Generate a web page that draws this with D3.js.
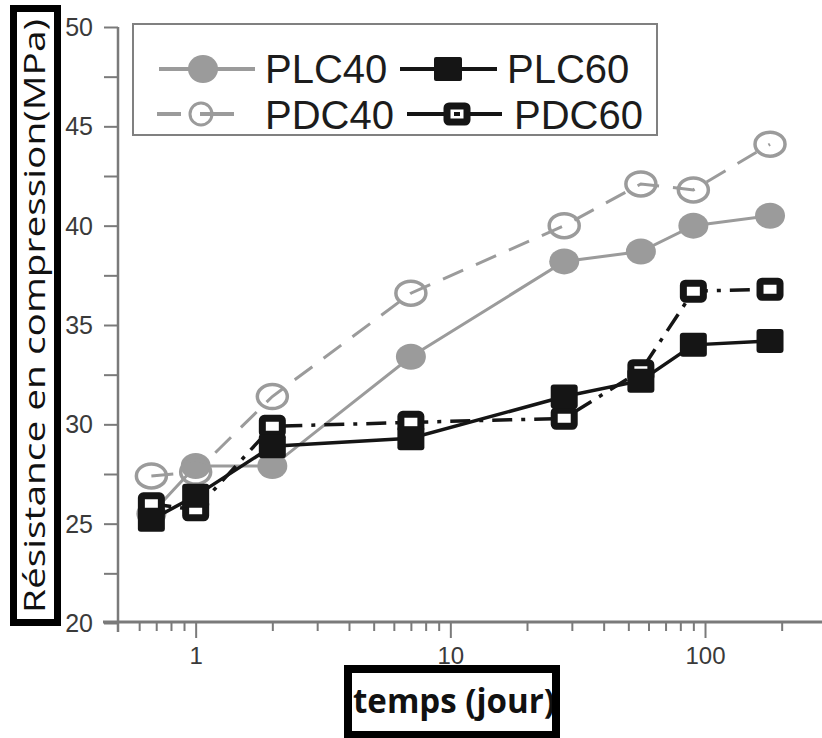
<!DOCTYPE html>
<html>
<head>
<meta charset="utf-8">
<script src="https://cdn.jsdelivr.net/npm/d3@7"></script>
<style>
  body { margin: 0; background: #fff; }
  svg { display: block; }
</style>
</head>
<body>
<div id="chart"></div>
<script>
// values (days, MPa)
var days  = [0.67, 1, 2, 7, 28, 56, 90, 180];
var plc40 = [25.5, 27.9, 27.9, 33.4, 38.2, 38.7, 40.0, 40.5];
var pdc40 = [27.4, 27.6, 31.4, 36.6, 40.0, 42.1, 41.8, 44.1];
var plc60 = [25.2, 26.4, 28.9, 29.3, 31.4, 32.2, 34.0, 34.2];
var pdc60 = [26.0, 25.7, 29.9, 30.1, 30.3, 32.7, 36.7, 36.8];

var yTicks = [20, 25, 30, 35, 40, 45, 50];
var yMinor = [22.5, 27.5, 32.5, 37.5, 42.5, 47.5];
var xMajor = [1, 10, 100];
var xMinor = [0.6, 0.7, 0.8, 0.9, 2, 3, 4, 5, 6, 7, 8, 9, 20, 30, 40, 50, 60, 70, 80, 90, 200];

var W = 822, H = 738;
var grey = "#9b9b9b", black = "#151515", axisCol = "#7a7a7a";

var svg = d3.select("#chart").append("svg")
    .attr("width", W)
    .attr("height", H);

var x = d3.scaleLog().domain([0.5, 288]).range([119, 822]);
var y = d3.scaleLinear().domain([20, 50]).range([623, 27]);

// ---- axes ----
var yAxis = svg.append("g")
    .attr("transform", "translate(118,0)")
    .call(d3.axisLeft(y).tickValues(yTicks.concat(yMinor)).tickSize(14).tickFormat(function (d) { return yTicks.indexOf(d) >= 0 ? d : ""; }));
yAxis.select(".domain").remove();
yAxis.selectAll(".tick line").attr("stroke", axisCol).attr("stroke-width", 2);
yAxis.selectAll(".tick text")
    .attr("x", -25)
    .attr("dy", "0.34em")
    .attr("fill", "#3a3a3a")
    .style("font-family", "Liberation Sans, Arial, sans-serif")
    .style("font-size", "25px");

var xAxis = svg.append("g")
    .attr("transform", "translate(0,622)")
    .call(d3.axisBottom(x).tickValues(xMajor.concat(xMinor)).tickSize(9).tickFormat(function (d) { return xMajor.indexOf(d) >= 0 ? d : ""; }));
xAxis.select(".domain").remove();
xAxis.selectAll(".tick line")
    .attr("stroke", axisCol)
    .attr("stroke-width", 2)
    .attr("y2", function (d) { return xMajor.indexOf(d) >= 0 ? 16 : 9; });
xAxis.selectAll(".tick text")
    .attr("y", 42)
    .attr("dy", 0)
    .attr("fill", "#3a3a3a")
    .style("font-family", "Liberation Sans, Arial, sans-serif")
    .style("font-size", "24px");

// axis lines
svg.append("line")
    .attr("x1", 118).attr("x2", 118)
    .attr("y1", y(50)).attr("y2", 632)
    .attr("stroke", axisCol).attr("stroke-width", 2.5);
svg.append("line")
    .attr("x1", 103).attr("x2", W)
    .attr("y1", 622).attr("y2", 622)
    .attr("stroke", axisCol).attr("stroke-width", 3);

// ---- series ----
function pts(vals) { return days.map(function (d, i) { return [d, vals[i]]; }); }
var line = d3.line().x(function (d) { return x(d[0]); }).y(function (d) { return y(d[1]); });

svg.append("path").datum(pts(plc40)).attr("d", line)
    .attr("fill", "none").attr("stroke", grey).attr("stroke-width", 3);
svg.append("path").datum(pts(pdc40)).attr("d", line)
    .attr("fill", "none").attr("stroke", grey).attr("stroke-width", 3)
    .attr("stroke-dasharray", "22,14");

svg.selectAll(".plc40").data(pts(plc40)).enter().append("ellipse")
    .attr("cx", function (d) { return x(d[0]); })
    .attr("cy", function (d) { return y(d[1]); })
    .attr("rx", 15).attr("ry", 13)
    .attr("fill", grey);

svg.selectAll(".pdc40").data(pts(pdc40)).enter().append("ellipse")
    .attr("cx", function (d) { return x(d[0]); })
    .attr("cy", function (d) { return y(d[1]); })
    .attr("rx", 15).attr("ry", 12)
    .attr("fill", "none").attr("stroke", grey).attr("stroke-width", 3.5);

svg.append("path").datum(pts(pdc60)).attr("d", line)
    .attr("fill", "none").attr("stroke", black).attr("stroke-width", 3.5)
    .attr("stroke-dasharray", "20,9,4,9");
svg.append("path").datum(pts(plc60)).attr("d", line)
    .attr("fill", "none").attr("stroke", black).attr("stroke-width", 3.5);

svg.selectAll(".pdc60").data(pts(pdc60)).enter().append("rect")
    .attr("x", function (d) { return x(d[0]) - 10; })
    .attr("y", function (d) { return y(d[1]) - 8; })
    .attr("width", 20).attr("height", 16).attr("rx", 2)
    .attr("fill", "#fff").attr("stroke", black).attr("stroke-width", 7);

svg.selectAll(".plc60").data(pts(plc60)).enter().append("rect")
    .attr("x", function (d) { return x(d[0]) - 13.5; })
    .attr("y", function (d) { return y(d[1]) - 12; })
    .attr("width", 27).attr("height", 24).attr("rx", 3)
    .attr("fill", black);

// ---- legend ----
var leg = svg.append("g");
leg.append("rect")
    .attr("x", 133).attr("y", 24).attr("width", 524).attr("height", 111)
    .attr("fill", "#fff").attr("stroke", "#808080").attr("stroke-width", 2);

function legText(tx, ty, s) {
    leg.append("text").attr("x", tx).attr("y", ty).text(s)
        .attr("fill", "#1c1c1c")
        .style("font-family", "Liberation Sans, Arial, sans-serif")
        .style("font-size", "40px");
}

// PLC40
leg.append("line").attr("x1", 159).attr("x2", 255).attr("y1", 69).attr("y2", 69)
    .attr("stroke", grey).attr("stroke-width", 4);
leg.append("ellipse").attr("cx", 203).attr("cy", 69).attr("rx", 15).attr("ry", 14).attr("fill", grey);
legText(265, 83, "PLC40");

// PLC60
leg.append("line").attr("x1", 400).attr("x2", 497).attr("y1", 69).attr("y2", 69)
    .attr("stroke", black).attr("stroke-width", 4);
leg.append("rect").attr("x", 434).attr("y", 57).attr("width", 28).attr("height", 24).attr("rx", 2).attr("fill", black);
legText(507, 83, "PLC60");

// PDC40
leg.append("line").attr("x1", 157).attr("x2", 181).attr("y1", 114).attr("y2", 114)
    .attr("stroke", grey).attr("stroke-width", 4);
leg.append("line").attr("x1", 200).attr("x2", 234).attr("y1", 114).attr("y2", 114)
    .attr("stroke", grey).attr("stroke-width", 4);
leg.append("ellipse").attr("cx", 201).attr("cy", 114).attr("rx", 11).attr("ry", 11)
    .attr("fill", "none").attr("stroke", grey).attr("stroke-width", 3);
legText(265, 129, "PDC40");

// PDC60
leg.append("line").attr("x1", 407).attr("x2", 502).attr("y1", 114).attr("y2", 114)
    .attr("stroke", black).attr("stroke-width", 4);
leg.append("rect").attr("x", 447).attr("y", 106).attr("width", 20).attr("height", 16).attr("rx", 2)
    .attr("fill", "#fff").attr("stroke", black).attr("stroke-width", 7);
leg.append("rect").attr("x", 454).attr("y", 112).attr("width", 6).attr("height", 4).attr("fill", black);
legText(514, 129, "PDC60");

// ---- axis titles in black frames ----
svg.append("rect")
    .attr("x", 13.5).attr("y", 8.5).attr("width", 44).attr("height", 614)
    .attr("fill", "#fff").attr("stroke", "#000").attr("stroke-width", 7);
svg.append("text")
    .attr("transform", "translate(45,316) rotate(-90)")
    .attr("text-anchor", "middle")
    .attr("textLength", 594).attr("lengthAdjust", "spacingAndGlyphs")
    .attr("fill", "#111")
    .style("font-family", "Open Sans, sans-serif")
    .style("font-size", "30px")
    .text("Résistance en compression(MPa)");

svg.append("rect")
    .attr("x", 348).attr("y", 669).attr("width", 208).attr("height", 66)
    .attr("fill", "#fff");
svg.append("text")
    .attr("x", 353).attr("y", 713)
    .attr("textLength", 202).attr("lengthAdjust", "spacingAndGlyphs")
    .attr("fill", "#111")
    .style("font-family", "Open Sans, sans-serif")
    .style("font-weight", "bold")
    .style("font-size", "34px")
    .text("temps (jour)");
svg.append("rect")
    .attr("x", 348).attr("y", 669).attr("width", 208).attr("height", 66)
    .attr("fill", "none").attr("stroke", "#000").attr("stroke-width", 8);
</script>
</body>
</html>
